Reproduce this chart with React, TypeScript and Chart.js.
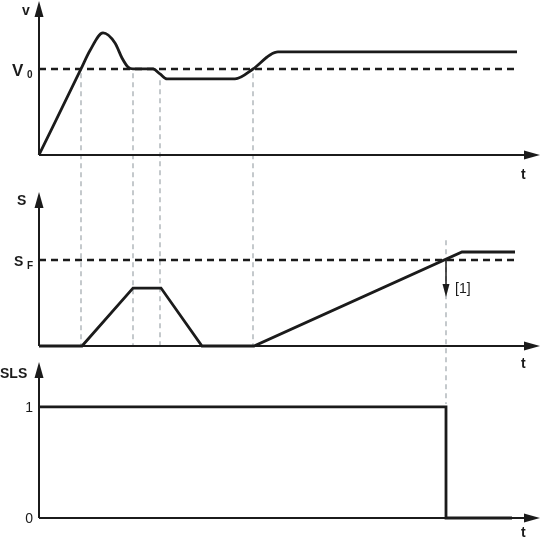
import React, { useEffect, useRef } from "react";
import { Chart, registerables } from "chart.js";

Chart.register(...registerables);

// ---- data (time t in arbitrary units, values normalised) ----
const vTimes = [0, 0.84, 1.02, 1.28, 1.52, 1.66, 1.78, 1.88, 2.28, 2.42, 2.56, 3.92, 4.28, 4.62, 4.78, 9.56];
const vValues = [0, 1.0, 1.214, 1.419, 1.302, 1.128, 1.023, 1.0, 1.0, 0.942, 0.884, 0.884, 1.0, 1.163, 1.198, 1.198];
const v0Times = [0, 9.56];
const v0Level = 1;

const sTimes = [0, 0.86, 1.88, 2.44, 3.26, 4.3, 8.46, 9.52];
const sValues = [0, 0, 0.674, 0.674, 0, 0, 1.093, 1.093];
const sfTimes = [0, 9.56];
const sfLevel = 1;

const slsTimes = [0, 8.14, 8.14, 9.46];
const slsValues = [1, 1, 0, 0];
const slsTicks = ["0", "1"];

const markerTimes = [0.84, 1.88, 2.42, 4.28];
const markerTopV = [0.95, 0.95, 0.87, 0.95];
const tripTime = 8.14;
const tripTopS = 1.23;
const tripArrowEndS = 0.57;

const INK = "#1b1b1b";
const GREY = "#9ea6ab";
const FONT = "'Liberation Sans', Arial, sans-serif";

const pts = (xs: number[], ys: number[]) => xs.map((x, i) => ({ x, y: ys[i] }));

function arrowUp(ctx: CanvasRenderingContext2D, x: number, tip: number) {
  ctx.beginPath();
  ctx.moveTo(x, tip);
  ctx.lineTo(x - 4.5, tip + 16);
  ctx.lineTo(x + 4.5, tip + 16);
  ctx.closePath();
  ctx.fill();
}
function arrowRight(ctx: CanvasRenderingContext2D, tip: number, y: number) {
  ctx.beginPath();
  ctx.moveTo(tip, y);
  ctx.lineTo(tip - 16, y - 4.5);
  ctx.lineTo(tip - 16, y + 4.5);
  ctx.closePath();
  ctx.fill();
}

const diagramPlugin = {
  id: "diagram",
  beforeDatasetsDraw(chart: any) {
    const { ctx, scales } = chart;
    const x = scales.x, yA = scales.yA, yB = scales.yB, yC = scales.yC;
    ctx.save();
    ctx.strokeStyle = GREY;
    ctx.lineWidth = 1.2;
    ctx.setLineDash([5, 4]);
    markerTimes.forEach((t, i) => {
      const px = x.getPixelForValue(t);
      ctx.beginPath();
      ctx.moveTo(px, yA.getPixelForValue(markerTopV[i]));
      ctx.lineTo(px, yB.getPixelForValue(0));
      ctx.stroke();
    });
    const tx = x.getPixelForValue(tripTime);
    ctx.beginPath();
    ctx.moveTo(tx, yB.getPixelForValue(tripTopS));
    ctx.lineTo(tx, yC.getPixelForValue(1) - 3);
    ctx.stroke();
    ctx.restore();
  },
  afterDatasetsDraw(chart: any) {
    const { ctx, scales } = chart;
    const x = scales.x;
    const x0 = x.getPixelForValue(0);
    const xEnd = chart.chartArea.right;
    ctx.save();
    ctx.strokeStyle = INK;
    ctx.fillStyle = INK;
    ctx.lineWidth = 2;
    ctx.setLineDash([]);
    const panels = [
      { s: scales.yA, top: scales.yA.top + 1 },
      { s: scales.yB, top: scales.yB.top + 12 },
      { s: scales.yC, top: scales.yC.top + 4 },
    ];
    panels.forEach(({ s, top }) => {
      const base = s.getPixelForValue(0);
      ctx.beginPath();
      ctx.moveTo(x0, base);
      ctx.lineTo(x0, top + 10);
      ctx.moveTo(x0, base);
      ctx.lineTo(xEnd - 10, base);
      ctx.stroke();
      arrowUp(ctx, x0, top);
      arrowRight(ctx, xEnd, base);
    });

    // trip arrow [1]
    const tx = x.getPixelForValue(tripTime);
    const yS = scales.yB.getPixelForValue(sfLevel);
    const yE = scales.yB.getPixelForValue(tripArrowEndS);
    ctx.lineWidth = 1.5;
    ctx.beginPath();
    ctx.moveTo(tx, yS);
    ctx.lineTo(tx, yE - 10);
    ctx.stroke();
    ctx.beginPath();
    ctx.moveTo(tx, yE);
    ctx.lineTo(tx - 3.5, yE - 13);
    ctx.lineTo(tx + 3.5, yE - 13);
    ctx.closePath();
    ctx.fill();

    // labels
    ctx.textBaseline = "alphabetic";
    ctx.textAlign = "left";
    ctx.font = `bold 14px ${FONT}`;
    ctx.fillText("v", 22, 15);
    ctx.fillText("t", 521, scales.yA.getPixelForValue(0) + 24);
    ctx.fillText("t", 521, scales.yB.getPixelForValue(0) + 22);
    ctx.fillText("t", 521, scales.yC.getPixelForValue(0) + 19);
    ctx.fillText("S", 17, scales.yB.top + 25);
    ctx.fillText("SLS", 0, scales.yC.top + 20);
    const sfy = scales.yB.getPixelForValue(sfLevel);
    ctx.fillText("S", 14, sfy + 6);
    const v0y = scales.yA.getPixelForValue(v0Level);
    ctx.font = `bold 17px ${FONT}`;
    ctx.fillText("V", 12, v0y + 7);
    ctx.font = `bold 10px ${FONT}`;
    ctx.fillText("0", 27, v0y + 9);
    ctx.fillText("F", 27, sfy + 9);
    ctx.font = `14px ${FONT}`;
    ctx.textAlign = "right";
    slsTicks.forEach((lab) => {
      ctx.fillText(lab, 33, scales.yC.getPixelForValue(Number(lab)) + 5);
    });
    ctx.textAlign = "left";
    ctx.font = `14px ${FONT}`;
    ctx.fillText("[1]", tx + 9, yS + 33);
    ctx.restore();
  },
};

export default function App() {
  const ref = useRef<HTMLCanvasElement | null>(null);
  useEffect(() => {
    if (!ref.current) return;
    const line = {
      borderColor: INK,
      borderWidth: 2.8,
      pointRadius: 0,
      fill: false,
    };
    const dashed = {
      borderColor: INK,
      borderWidth: 2.4,
      pointRadius: 0,
      fill: false,
      borderDash: [7, 5],
    };
    const chart = new Chart(ref.current, {
      type: "line",
      data: {
        datasets: [
          { ...dashed, label: "V0", yAxisID: "yA", data: pts(v0Times, v0Times.map(() => v0Level)) },
          { ...line, label: "v", yAxisID: "yA", cubicInterpolationMode: "monotone", data: pts(vTimes, vValues) },
          { ...dashed, label: "SF", yAxisID: "yB", data: pts(sfTimes, sfTimes.map(() => sfLevel)) },
          { ...line, label: "S", yAxisID: "yB", tension: 0, data: pts(sTimes, sValues) },
          { ...line, label: "SLS", yAxisID: "yC", tension: 0, data: pts(slsTimes, slsValues) },
        ] as any,
      },
      options: {
        animation: false,
        responsive: true,
        maintainAspectRatio: false,
        layout: { padding: 0 },
        plugins: { legend: { display: false }, tooltip: { enabled: false } },
        events: [],
        scales: {
          x: { type: "linear", min: -0.78, max: 10.02, display: false },
          yC: { type: "linear", position: "left", stack: "panels", stackWeight: 184, weight: 1, min: -0.216, max: 1.441, display: false },
          yB: { type: "linear", position: "left", stack: "panels", stackWeight: 178, weight: 2, min: -0.1395, max: 1.93, display: false },
          yA: { type: "linear", position: "left", stack: "panels", stackWeight: 180, weight: 3, min: -0.291, max: 1.802, display: false },
        } as any,
      },
      plugins: [diagramPlugin],
    });
    return () => chart.destroy();
  }, []);
  return (
    <div style={{ position: "fixed", left: 0, top: 0, width: 540, height: 542, background: "#fff" }}>
      <canvas ref={ref} />
    </div>
  );
}
